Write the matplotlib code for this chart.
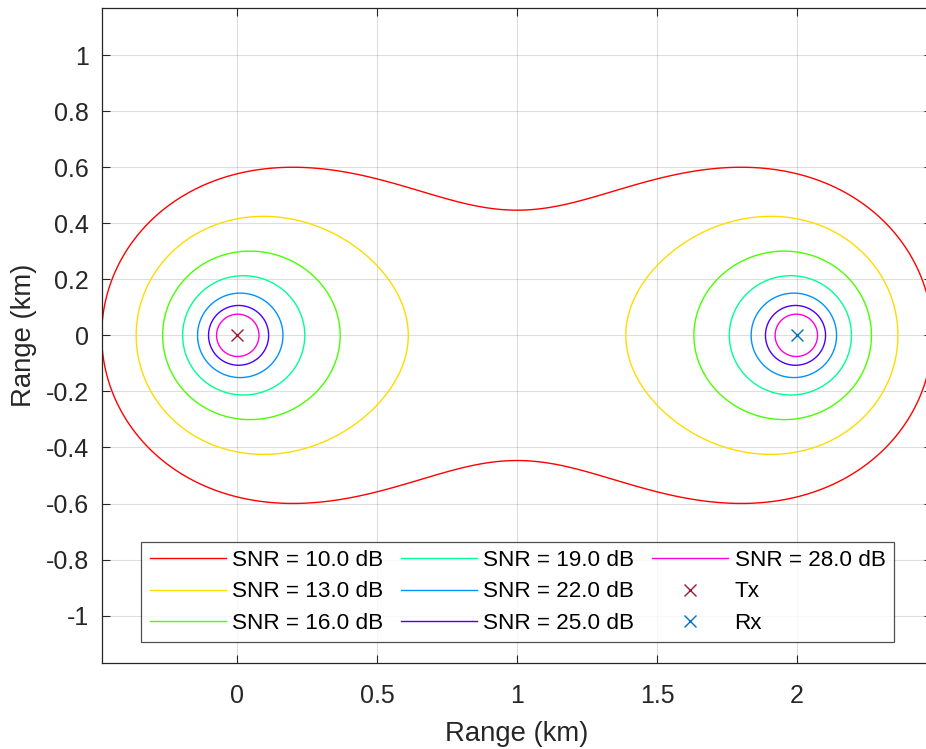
import numpy as np
import matplotlib
matplotlib.use("Agg")
import matplotlib.pyplot as plt
from matplotlib.lines import Line2D

# ---- data ----
snr_levels_db = [10.0, 13.0, 16.0, 19.0, 22.0, 25.0, 28.0]
level_colors = [(1.0, 0.0, 0.0), (1.0, 0.857, 0.0), (0.286, 1.0, 0.0),
                (0.0, 1.0, 0.571), (0.0, 0.571, 1.0), (0.286, 0.0, 1.0),
                (1.0, 0.0, 0.857)]
tx_pos = (0.0, 0.0)
rx_pos = (2.0, 0.0)
snr_at_1km_each_db = 11.58   # SNR when both Tx and Rx ranges are 1 km
x_ticks = [0, 0.5, 1, 1.5, 2]
y_ticks = [-1, -0.8, -0.6, -0.4, -0.2, 0, 0.2, 0.4, 0.6, 0.8, 1]

plt.rcParams['font.family'] = ['Liberation Sans', 'DejaVu Sans']
plt.rcParams['axes.unicode_minus'] = False

W, H = 926, 749
fig = plt.figure(figsize=(W / 100, H / 100), dpi=100)
left, right, top, bottom = 101.7, 932.4, 8.0, 662.7
ax = fig.add_axes([left / W, 1 - bottom / H, (right - left) / W, (bottom - top) / H])

# SNR field (bistatic radar equation: SNR ~ 1/(R1^2 R2^2))
xg = np.linspace(-0.6, 2.6, 1601)
yg = np.linspace(-1.2, 1.2, 1201)
X, Y = np.meshgrid(xg, yg)
R1 = np.hypot(X - tx_pos[0], Y - tx_pos[1])
R2 = np.hypot(X - rx_pos[0], Y - rx_pos[1])
SNR = snr_at_1km_each_db - 20 * np.log10(np.maximum(R1 * R2, 1e-9))

ax.contour(X, Y, SNR, levels=snr_levels_db, colors=level_colors, linewidths=1.0)

tx_color = (0.635, 0.078, 0.184)
rx_color = (0.0, 0.447, 0.741)
ax.plot([tx_pos[0]], [tx_pos[1]], 'x', color=tx_color, markersize=8, mew=1.0)
ax.plot([rx_pos[0]], [rx_pos[1]], 'x', color=rx_color, markersize=8, mew=1.0)

ax.set_xlim(-0.483, 2.483)
ax.set_ylim(-1.168, 1.168)
ax.set_xticks(x_ticks)
ax.set_yticks(y_ticks)
ax.set_xticklabels(['%g' % v for v in x_ticks])
ax.set_yticklabels(['%g' % v for v in y_ticks])

dark = (0.15, 0.15, 0.15)
ax.grid(True, color=(0.15, 0.15, 0.15), alpha=0.15, linewidth=0.8)
ax.set_axisbelow(True)
for s in ax.spines.values():
    s.set_color(dark)
    s.set_linewidth(0.9)
ax.tick_params(direction='in', length=6, width=0.8, colors=dark, labelsize=18,
               top=True, right=True)
ax.tick_params(axis='x', pad=15.5)
ax.tick_params(axis='y', pad=9)
ax.set_xlabel('Range (km)', fontsize=19.8, color=dark, labelpad=9)
ax.set_ylabel('Range (km)', fontsize=19.8, color=dark, labelpad=6.4)

handles = [Line2D([], [], color=c, linewidth=1.0) for c in level_colors]
labels = ['SNR = %.1f dB' % v for v in snr_levels_db]
handles += [Line2D([], [], color=tx_color, marker='x', linestyle='none', markersize=8),
            Line2D([], [], color=rx_color, marker='x', linestyle='none', markersize=8)]
labels += ['Tx', 'Rx']
leg = ax.legend(handles, labels, ncol=3, loc='center', bbox_to_anchor=(0.5005, 0.108),
                fontsize=16.2, frameon=True, fancybox=False, edgecolor=dark,
                handlelength=3.38, handletextpad=0.29, columnspacing=0.78,
                labelspacing=0.45, borderpad=0.38, borderaxespad=0)
leg.get_frame().set_linewidth(0.9)

fig.savefig('out.png', dpi=100)
